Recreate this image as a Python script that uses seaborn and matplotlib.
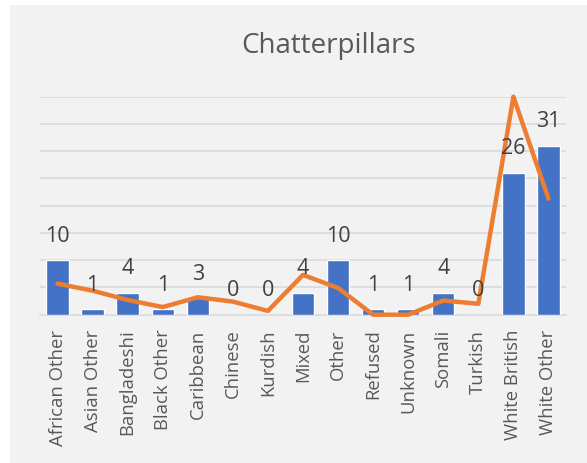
import matplotlib
matplotlib.use("Agg")
import matplotlib.pyplot as plt
import matplotlib.patches as patches
import numpy as np
import seaborn as sns

categories = ["African Other", "Asian Other", "Bangladeshi", "Black Other", "Caribbean",
              "Chinese", "Kurdish", "Mixed", "Other", "Refused", "Unknown", "Somali",
              "Turkish", "White British", "White Other"]
bar_values = [10, 1, 4, 1, 3, 0, 0, 4, 10, 1, 1, 4, 0, 26, 31]
line_values = [5.7, 4.4, 2.7, 1.4, 3.2, 2.4, 0.7, 7.3, 4.9, 0, 0, 2.6, 2.0, 40, 21.3]

sns.set_style("white")
plt.rcParams['font.family'] = ['Open Sans', 'DejaVu Sans']
text_col = "#595959"

fig = plt.figure(figsize=(5.87, 4.64), dpi=100)
fig.patch.set_facecolor("white")
fig.patches.append(patches.Rectangle((10 / 587, 0), 1, 1 - 6 / 464, transform=fig.transFigure,
                                     facecolor="#F2F2F2", edgecolor="none", zorder=-10))

ax = fig.add_axes([40 / 587, 148.3 / 464, 526 / 587, 218 / 464])
ax.set_facecolor("none")

x = np.arange(len(categories))
sns.barplot(x=x, y=bar_values, color="#4472C4", width=0.64, saturation=1, ax=ax, zorder=3)
sns.lineplot(x=x, y=line_values, color="#ED7D31", linewidth=3.2, ax=ax, zorder=4, clip_on=False)

for i, v in enumerate(bar_values):
    ax.annotate(str(v), (i, v), xytext=(0, 25), textcoords="offset pixels",
                ha="center", va="center", fontsize=15.5, color="#404040", zorder=5)

ax.set_xlim(-0.5, len(categories) - 0.5)
ax.set_ylim(0, 40)
ax.set_yticks(np.arange(5, 41, 5))
ax.set_yticklabels([])
ax.yaxis.grid(True, color="#D9D9D9", linewidth=1.2, zorder=0)
ax.tick_params(axis="y", length=0)

ax.set_xticks(x)
ax.set_xticklabels(categories, rotation=90, fontsize=13.3, color=text_col)
ax.set_xticks(np.arange(-0.5, len(categories), 1), minor=True)
ax.tick_params(axis="x", which="major", length=0, pad=10)
ax.tick_params(axis="x", which="minor", length=5, color="#D9D9D9", width=1.2, direction="out")

for s in ["top", "right", "left"]:
    ax.spines[s].set_visible(False)
ax.spines["bottom"].set_color("#D9D9D9")
ax.spines["bottom"].set_linewidth(1.2)

fig.text(328.5 / 587, 1 - 46 / 464, "Chatterpillars", ha="center", va="center",
         fontsize=20, color=text_col)

fig.savefig("out.png", dpi=100)
